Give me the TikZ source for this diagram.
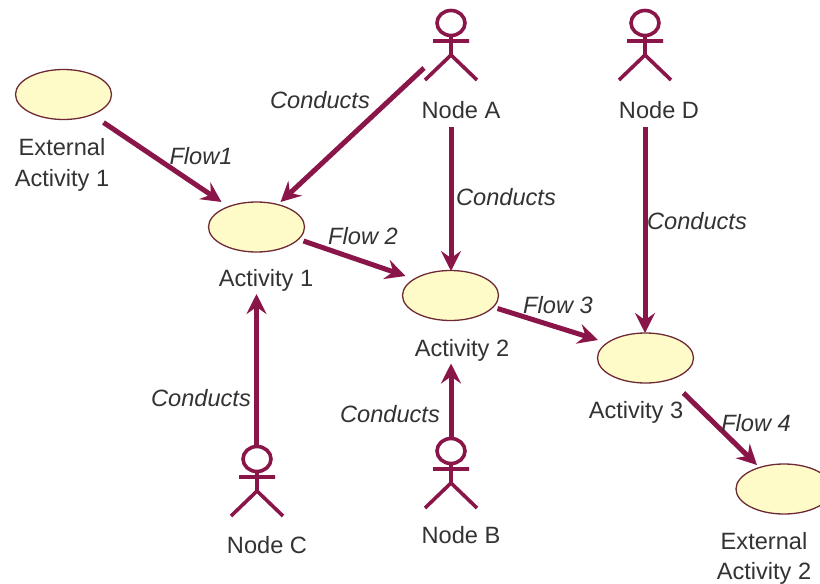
\documentclass[tikz,border=0pt]{standalone}
\usepackage{fontspec}
\setmainfont{Liberation Sans}
\usetikzlibrary{arrows.meta,shapes.geometric}
\definecolor{wine}{HTML}{8A1548}
\definecolor{cream}{HTML}{FFFBC9}
\definecolor{rim}{HTML}{6E2A34}
\definecolor{ink}{HTML}{333333}
\tikzset{
  activity/.style={ellipse,draw=rim,fill=cream,line width=1.3pt,minimum width=96pt,minimum height=50pt,inner sep=0pt},
  actorbox/.style={rectangle,minimum width=52pt,minimum height=70pt,inner sep=0pt},
  conn/.style={draw=wine,line width=5pt,-{Stealth[length=20pt,width=20pt,inset=7pt]}},
  txt/.style={font=\fontsize{23.6}{30.5}\selectfont,text=ink,align=center,inner sep=0pt},
  ltxt/.style={txt,font=\fontsize{23.6}{30.5}\selectfont\itshape},
  actor/.pic={
    \draw[wine,line width=3.6pt] (0,-22) ellipse (14 and 12.5);
    \draw[wine,line width=3.6pt] (0,-9.5) -- (0,10) (-18,-4) -- (18,-4) (-26,35) -- (0,10) -- (26,35);
  }
}
\begin{document}
\begin{tikzpicture}[x=1pt,y=-1pt]
\useasboundingbox (0,0) rectangle (820,584);
\fill[white] (0,0) rectangle (820,584);
% activities
\node[activity] (ea1) at (63.5,94.5) {};
\node[activity] (a1) at (256.5,227) {};
\node[activity] (a2) at (450.5,295.5) {};
\node[activity] (a3) at (645.5,358) {};
\node[activity] (ea2) at (784,489) {};
% actors
\node[actorbox] (actA) at (451,45) {};
\node[actorbox] (actD) at (645,45) {};
\node[actorbox] (actC) at (257,481) {};
\node[actorbox] (actB) at (451,473) {};
\pic at (actA.center) {actor};
\pic at (actD.center) {actor};
\pic at (actC.center) {actor};
\pic at (actB.center) {actor};
% node texts
\node[txt] (tA) at (461,110) {Node A};
\node[txt] (tD) at (659,110) {Node D};
\node[txt] (tC) at (267,545) {Node C};
\node[txt] (tB) at (461,535) {Node B};
\node[txt] (tE1) at (62,165) {External\\Activity 1};
\node[txt] (t1) at (266,280.5) {Activity 1};
\node[txt] (t2) at (462,350) {Activity 2};
\node[txt] (t3) at (636,412.5) {Activity 3};
\node[txt] (tE2) at (764,558.5) {External\\Activity 2};
% connectors
\draw[conn] ([shift={(40,28)}]ea1.center) -- ([shift={(-35,-25)}]a1.center);
\draw[conn] ([shift={(-27,23)}]actA.center) -- ([shift={(24,-25)}]a1.center);
\draw[conn] ([shift={(0,82)}]actA.center) -- ([shift={(0.5,-24.5)}]a2.center);
\draw[conn] ([shift={(0,82)}]actD.center) -- ([shift={(-0.5,-25)}]a3.center);
\draw[conn] ([shift={(47,14)}]a1.center) -- ([shift={(-45,-19.5)}]a2.center);
\draw[conn] ([shift={(47,13)}]a2.center) -- ([shift={(-47.5,-18)}]a3.center);
\draw[conn] ([shift={(38,35)}]a3.center) -- ([shift={(-27,-24)}]ea2.center);
\draw[conn] ([shift={(-0.5,-34)}]actC.center) -- ([shift={(0,67)}]a1.center);
\draw[conn] ([shift={(0,-33)}]actB.center) -- ([shift={(0.5,68)}]a2.center);
% connector labels
\node[ltxt] (c1) at (320,100) {Conducts};
\node[ltxt] (c2) at (506,197) {Conducts};
\node[ltxt] (c3) at (697,221) {Conducts};
\node[ltxt] (c4) at (201,398) {Conducts};
\node[ltxt] (c5) at (390,414) {Conducts};
\node[ltxt] (f1) at (201,156) {Flow1};
\node[ltxt] (f2) at (363,236) {Flow 2};
\node[ltxt] (f3) at (558,305) {Flow 3};
\node[ltxt] (f4) at (756,423) {Flow 4};
\end{tikzpicture}
\end{document}
